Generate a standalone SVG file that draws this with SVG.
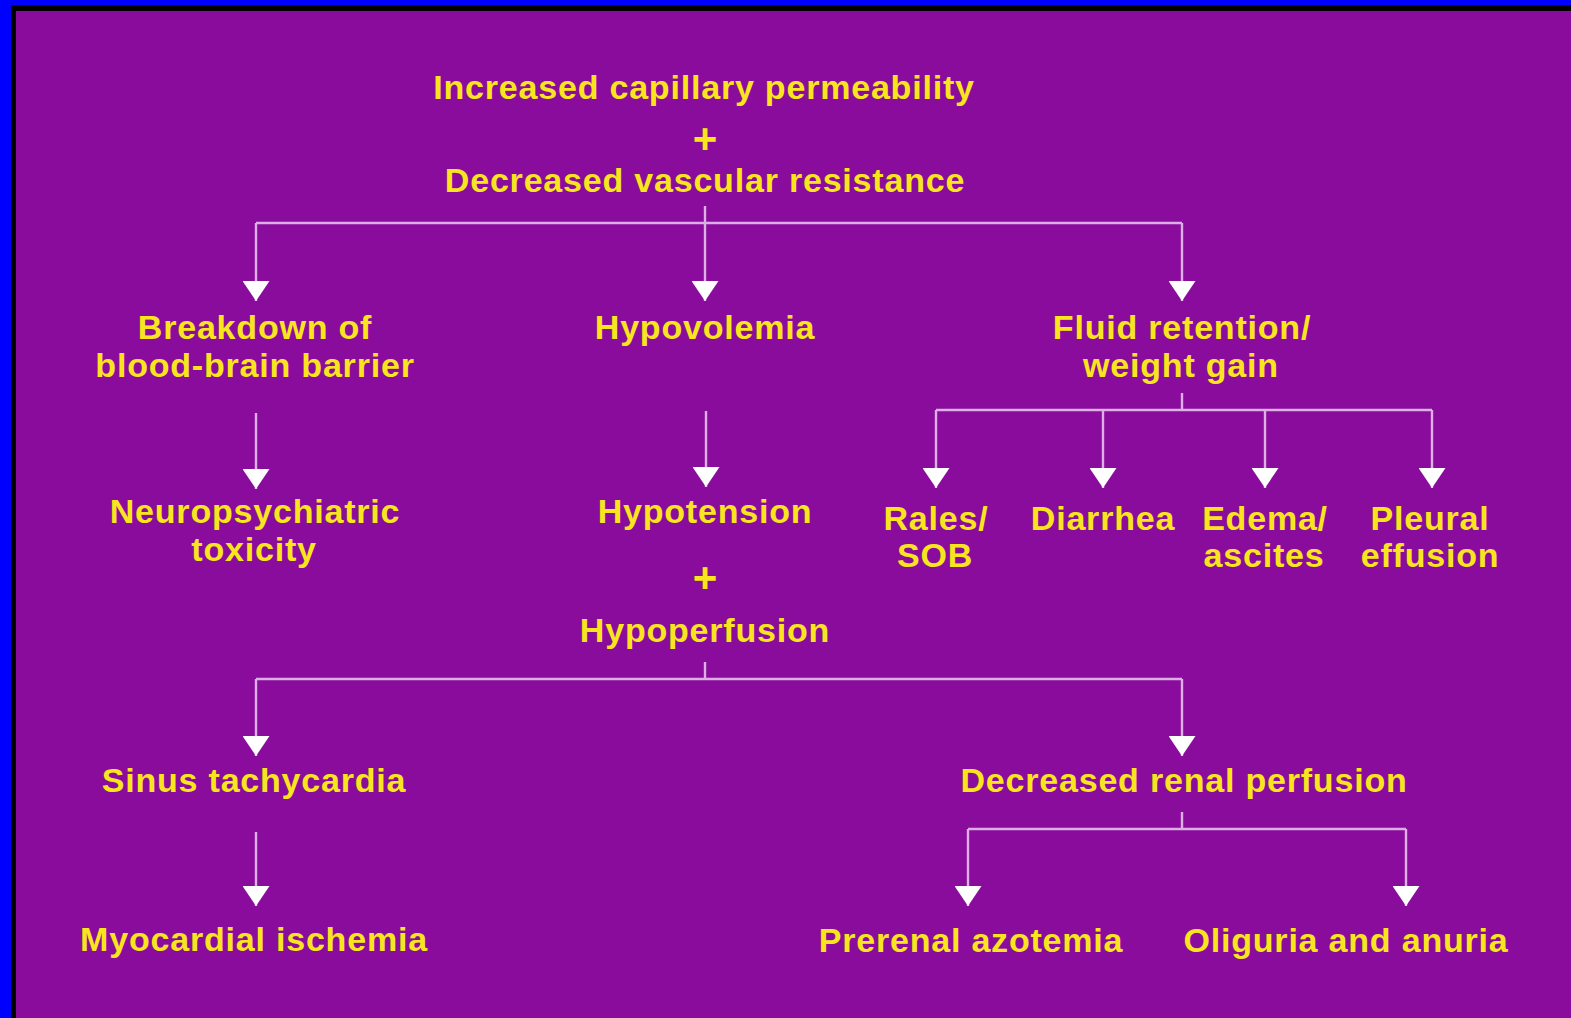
<svg xmlns="http://www.w3.org/2000/svg" width="1571" height="1018" viewBox="0 0 1571 1018">
<style>
  .t { font-family: "Liberation Sans", Arial, sans-serif; font-weight: bold; font-size: 34px; fill: #F8E51E; text-anchor: middle; letter-spacing: 0.8px; }
  .p { font-family: "Liberation Sans", Arial, sans-serif; font-weight: bold; font-size: 42px; fill: #F8E51E; text-anchor: middle; }
  .c { fill: none; stroke: #DCB0E4; stroke-width: 2.4; }
</style>
<defs>
  <marker id="ah" viewBox="0 0 20 27" markerWidth="20" markerHeight="27" refX="20" refY="13.5" orient="auto" markerUnits="userSpaceOnUse">
    <path d="M0,0 L20,13.5 L0,27 Z" fill="#FFFFFF"/>
  </marker>
</defs>
<rect x="0" y="0" width="1571" height="1018" fill="#0000FF"/>
<rect x="11" y="5" width="1560" height="1013" fill="#000000"/>
<rect x="16" y="11" width="1555" height="1007" fill="#8A0C9C"/>

<g id="connectors">
  <path class="c" d="M705,206 V301" marker-end="url(#ah)"/>
  <path class="c" d="M256,223 H1182"/>
  <path class="c" d="M256,223 V301" marker-end="url(#ah)"/>
  <path class="c" d="M1182,223 V301" marker-end="url(#ah)"/>

  <path class="c" d="M256,413 V489" marker-end="url(#ah)"/>
  <path class="c" d="M706,411 V487" marker-end="url(#ah)"/>

  <path class="c" d="M1182,393 V410"/>
  <path class="c" d="M936,410 H1432"/>
  <path class="c" d="M936,410 V488" marker-end="url(#ah)"/>
  <path class="c" d="M1103,410 V488" marker-end="url(#ah)"/>
  <path class="c" d="M1265,410 V488" marker-end="url(#ah)"/>
  <path class="c" d="M1432,410 V488" marker-end="url(#ah)"/>

  <path class="c" d="M705,662 V679"/>
  <path class="c" d="M256,679 H1182"/>
  <path class="c" d="M256,679 V756" marker-end="url(#ah)"/>
  <path class="c" d="M1182,679 V756" marker-end="url(#ah)"/>

  <path class="c" d="M256,832 V906" marker-end="url(#ah)"/>

  <path class="c" d="M1182,812 V829"/>
  <path class="c" d="M968,829 H1406"/>
  <path class="c" d="M968,829 V906" marker-end="url(#ah)"/>
  <path class="c" d="M1406,829 V906" marker-end="url(#ah)"/>
</g>

<g id="top">
  <text class="t" x="704" y="99">Increased capillary permeability</text>
  <text class="p" x="705" y="153">+</text>
  <text class="t" x="705" y="192">Decreased vascular resistance</text>
</g>
<g id="breakdown">
  <text class="t" x="255" y="339">Breakdown of</text>
  <text class="t" x="255" y="377">blood-brain barrier</text>
</g>
<g id="hypovolemia">
  <text class="t" x="705" y="339">Hypovolemia</text>
</g>
<g id="fluid">
  <text class="t" x="1182" y="339">Fluid retention/</text>
  <text class="t" x="1181" y="377">weight gain</text>
</g>
<g id="neuro">
  <text class="t" x="255" y="523">Neuropsychiatric</text>
  <text class="t" x="254" y="561">toxicity</text>
</g>
<g id="hypotension">
  <text class="t" x="705" y="523">Hypotension</text>
  <text class="p" x="705" y="592">+</text>
  <text class="t" x="705" y="642">Hypoperfusion</text>
</g>
<g id="rales">
  <text class="t" x="936" y="530">Rales/</text>
  <text class="t" x="935" y="567">SOB</text>
</g>
<g id="diarrhea">
  <text class="t" x="1103" y="530">Diarrhea</text>
</g>
<g id="edema">
  <text class="t" x="1265" y="530">Edema/</text>
  <text class="t" x="1264" y="567">ascites</text>
</g>
<g id="pleural">
  <text class="t" x="1430" y="530">Pleural</text>
  <text class="t" x="1430" y="567">effusion</text>
</g>
<g id="sinus">
  <text class="t" x="254" y="792">Sinus tachycardia</text>
</g>
<g id="renal">
  <text class="t" x="1184" y="792">Decreased renal perfusion</text>
</g>
<g id="myocardial">
  <text class="t" x="254" y="951">Myocardial ischemia</text>
</g>
<g id="prerenal">
  <text class="t" x="971" y="952">Prerenal azotemia</text>
</g>
<g id="oliguria">
  <text class="t" x="1346" y="952">Oliguria and anuria</text>
</g>
</svg>
